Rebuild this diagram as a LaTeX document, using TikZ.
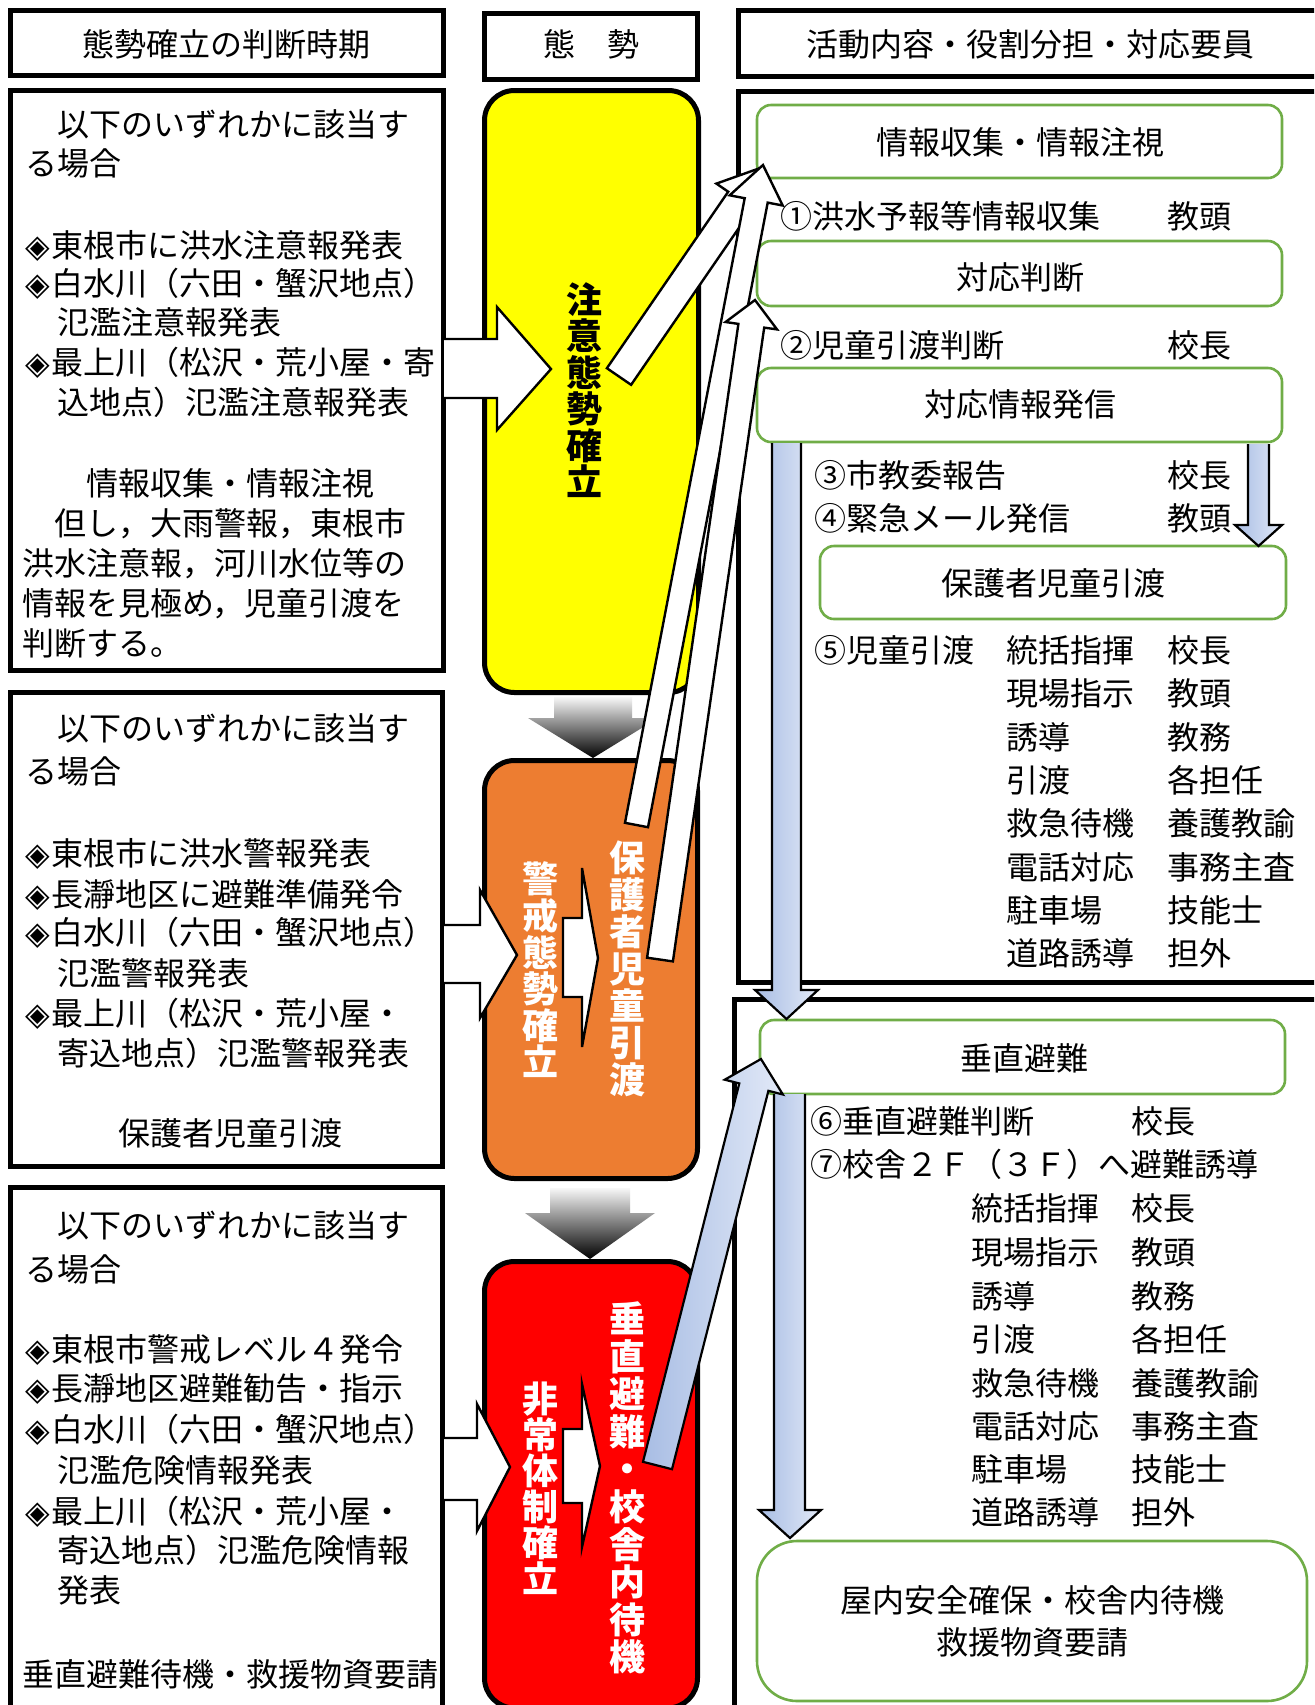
\documentclass[tikz,border=0pt]{standalone}
\usepackage{fontspec}
\setmainfont{Noto Sans CJK JP}
\newfontfamily\dejavu{DejaVu Sans}
\usetikzlibrary{calc}
\definecolor{ygold}{RGB}{255,255,0}
\definecolor{orng}{RGB}{237,125,49}
\definecolor{rred}{RGB}{255,0,0}
\definecolor{grn}{RGB}{112,173,71}
\definecolor{bluedk}{RGB}{168,189,228}
\definecolor{bluelt}{RGB}{226,233,247}
\newcommand\bul{{\dejavu\fontsize{16pt}{16pt}\selectfont ◈}\kern0.5pt}
\newcommand\vfont[1]{\bfseries\fontsize{18pt}{#1}\selectfont}
\newcommand\jtxt[4]{\node[txt] (#1) at (#2,#3) {#4};}
\newcommand\ctxtn[4]{\node[ctxt] (#1) at (#2,#3) {#4};}
\tikzset{
  frame/.style={draw=black, line width=2.5pt},
  midbox/.style={draw=black, line width=2.5pt, rounded corners=15pt},
  gbox/.style={draw=grn, line width=1.3pt, fill=white, rounded corners=7pt},
  txt/.style={anchor=base west, inner sep=0pt, font=\fontsize{16pt}{20pt}\selectfont},
  ctxt/.style={anchor=base, inner sep=0pt, font=\fontsize{16pt}{20pt}\selectfont},
  vtxt/.style={align=center, inner sep=0pt},
  warrow/.style={draw=black, fill=white, line width=1.2pt, line join=miter},
  barrow/.style={draw=black, left color=bluedk, right color=bluelt, line width=1.1pt, line join=miter},
  garrow/.style={top color=gray!6, bottom color=black}
}
\begin{document}
\begin{tikzpicture}[x=0.5pt,y=-0.5pt]
\useasboundingbox (0,0) rectangle (1314,1705);
\fill[white] (0,0) rectangle (1314,1705);
\clip (0,0) rectangle (1314,1705);

% header boxes
\draw[frame] (10.5,10.5) rectangle (443.5,75.5);
\draw[frame] (484.5,13.5) rectangle (697.5,79.5);
\draw[frame] (738.5,10.5) rectangle (1340,76);
\ctxtn{h1}{227}{56}{態勢確立の判断時期}
\ctxtn{h2}{591}{56}{態　勢}
\ctxtn{h3}{1030}{56}{活動内容・役割分担・対応要員}

% left boxes
\draw[frame] (10.5,90.5) rectangle (443.5,670.5);
\draw[frame] (10.5,692.5) rectangle (442.5,1166.5);
\draw[frame] (10.5,1187.5) rectangle (442.5,1730);

% right frames
\draw[frame] (738.5,91.5) rectangle (1340,982);
\draw[frame] (734,999.5) rectangle (1340,1730);

% middle boxes
\draw[midbox, fill=ygold] (484.5,90.5) rectangle (698.5,692.5);
\draw[midbox, fill=orng] (484.5,760.5) rectangle (697.5,1178.5);
\draw[midbox, fill=rred] (484.5,1261.5) rectangle (697.5,1708);

% gradient arrows between stages
\shade[garrow] (554,697) -- (632,697) -- (632,718) -- (658,718) -- (593,758) -- (528,718) -- (554,718) -- cycle;
\shade[garrow] (550,1188) -- (630,1188) -- (630,1213) -- (655,1213) -- (590,1259) -- (525,1213) -- (550,1213) -- cycle;

% vertical texts
\node[vtxt, font=\vfont{18.25pt}] (v1) at (584,390) {注\\意\\態\\勢\\確\\立};
\node[vtxt, text=white, font=\vfont{18.3pt}] (v2) at (540,970) {警\\戒\\態\\勢\\確\\立};
\node[vtxt, text=white, font=\vfont{18.5pt}] (v3) at (627,969) {保\\護\\者\\児\\童\\引\\渡};
\node[vtxt, text=white, font=\vfont{18pt}] (v4) at (540,1488) {非\\常\\体\\制\\確\\立};
\node[vtxt, text=white, font=\vfont{18.8pt}] (v5) at (627,1488) {垂\\直\\避\\難\\・\\校\\舎\\内\\待\\機};

% inner notched arrows
\draw[warrow] (563,918) -- (582,918) -- (582,868) -- (598,958) -- (582,1047) -- (582,997) -- (563,997) -- cycle;
\draw[warrow] (563,1429) -- (582,1429) -- (582,1384) -- (600,1466) -- (582,1547) -- (582,1503) -- (563,1503) -- cycle;

% arrows from left boxes into stages
\draw[warrow] (444,339) -- (497,339) -- (497,307) -- (551,369) -- (497,430) -- (497,398) -- (444,398);
\draw[warrow] (444,925) -- (480,925) -- (480,890) -- (517,955) -- (480,1018) -- (480,983) -- (444,983);
\draw[warrow] (444,1438) -- (477,1438) -- (477,1404) -- (510,1467) -- (477,1531) -- (477,1500) -- (444,1500);

% left box texts
\jtxt{a1}{25}{136}{　以下のいずれかに該当す}
\jtxt{a2}{25}{175}{る場合}
\jtxt{a3}{25}{257}{\bul 東根市に洪水注意報発表}
\jtxt{a4}{25}{295}{\bul 白水川（六田・蟹沢地点）}
\jtxt{a5}{25}{334}{　氾濫注意報発表}
\jtxt{a6}{25}{374}{\bul 最上川（松沢・荒小屋・寄}
\jtxt{a7}{25}{414}{　込地点）氾濫注意報発表}
\jtxt{a8}{22}{495}{　　情報収集・情報注視}
\jtxt{a9}{22}{535}{　但し，大雨警報，東根市}
\jtxt{a10}{22}{575}{洪水注意報，河川水位等の}
\jtxt{a11}{22}{615}{情報を見極め，児童引渡を}
\jtxt{a12}{22}{655}{判断する。}

\jtxt{b1}{25}{740}{　以下のいずれかに該当す}
\jtxt{b2}{25}{783}{る場合}
\jtxt{b3}{25}{865}{\bul 東根市に洪水警報発表}
\jtxt{b4}{25}{906}{\bul 長瀞地区に避難準備発令}
\jtxt{b5}{25}{944}{\bul 白水川（六田・蟹沢地点）}
\jtxt{b6}{25}{985}{　氾濫警報発表}
\jtxt{b7}{25}{1025}{\bul 最上川（松沢・荒小屋・}
\jtxt{b8}{25}{1065}{　寄込地点）氾濫警報発表}
\jtxt{b9}{22}{1145}{　　　保護者児童引渡}

\jtxt{c1}{25}{1237}{　以下のいずれかに該当す}
\jtxt{c2}{25}{1281}{る場合}
\jtxt{c3}{25}{1361}{\bul 東根市警戒レベル４発令}
\jtxt{c4}{25}{1400}{\bul 長瀞地区避難勧告・指示}
\jtxt{c5}{25}{1441}{\bul 白水川（六田・蟹沢地点）}
\jtxt{c6}{25}{1482}{　氾濫危険情報発表}
\jtxt{c7}{25}{1523}{\bul 最上川（松沢・荒小屋・}
\jtxt{c8}{25}{1562}{　寄込地点）氾濫危険情報}
\jtxt{c9}{25}{1602}{　発表}
\jtxt{c10}{22}{1686}{垂直避難待機・救援物資要請}

% green boxes
\draw[gbox] (757,105) rectangle (1282,178);
\draw[gbox] (757,241) rectangle (1282,306);
\draw[gbox] (757,368) rectangle (1282,442);
\draw[gbox] (820,546) rectangle (1286,619);
\draw[gbox] (760,1020) rectangle (1285,1094);
\draw[gbox, rounded corners=20pt] (757,1541) rectangle (1307,1701);
\ctxtn{g1}{1020}{154}{情報収集・情報注視}
\ctxtn{g2}{1020}{289}{対応判断}
\ctxtn{g3}{1020}{416}{対応情報発信}
\ctxtn{g4}{1053}{595}{保護者児童引渡}
\ctxtn{g5}{1024}{1070}{垂直避難}
\ctxtn{g6a}{1032}{1612}{屋内安全確保・校舎内待機}
\ctxtn{g6b}{1032}{1654}{救援物資要請}

% right column texts (frame 1)
\jtxt{r1}{780}{228}{①洪水予報等情報収集}
\jtxt{r1p}{1167}{228}{教頭}
\jtxt{r2}{780}{357}{②児童引渡判断}
\jtxt{r2p}{1167}{357}{校長}
\jtxt{r3}{814}{487}{③市教委報告}
\jtxt{r3p}{1167}{487}{校長}
\jtxt{r4}{814}{530}{④緊急メール発信}
\jtxt{r4p}{1167}{530}{教頭}
\jtxt{r5}{814}{662}{⑤児童引渡}
\jtxt{r5r}{1006}{662}{統括指揮}
\jtxt{r5p}{1167}{662}{校長}
\jtxt{s1r}{1006}{705}{現場指示}\jtxt{s1p}{1167}{705}{教頭}
\jtxt{s2r}{1006}{749}{誘導}\jtxt{s2p}{1167}{749}{教務}
\jtxt{s3r}{1006}{792}{引渡}\jtxt{s3p}{1167}{792}{各担任}
\jtxt{s4r}{1006}{835}{救急待機}\jtxt{s4p}{1167}{835}{養護教諭}
\jtxt{s5r}{1006}{879}{電話対応}\jtxt{s5p}{1167}{879}{事務主査}
\jtxt{s6r}{1006}{922}{駐車場}\jtxt{s6p}{1167}{922}{技能士}
\jtxt{s7r}{1006}{965}{道路誘導}\jtxt{s7p}{1167}{965}{担外}

% right column texts (frame 2)
\jtxt{r6}{810}{1133}{⑥垂直避難判断}
\jtxt{r6p}{1131}{1133}{校長}
\jtxt{r7}{810}{1176}{⑦校舎２Ｆ（３Ｆ）へ避難誘導}
\jtxt{t0r}{971}{1220}{統括指揮}\jtxt{t0p}{1131}{1220}{校長}
\jtxt{t1r}{971}{1264}{現場指示}\jtxt{t1p}{1131}{1264}{教頭}
\jtxt{t2r}{971}{1308}{誘導}\jtxt{t2p}{1131}{1308}{教務}
\jtxt{t3r}{971}{1351}{引渡}\jtxt{t3p}{1131}{1351}{各担任}
\jtxt{t4r}{971}{1395}{救急待機}\jtxt{t4p}{1131}{1395}{養護教諭}
\jtxt{t5r}{971}{1438}{電話対応}\jtxt{t5p}{1131}{1438}{事務主査}
\jtxt{t6r}{971}{1481}{駐車場}\jtxt{t6p}{1131}{1481}{技能士}
\jtxt{t7r}{971}{1524}{道路誘導}\jtxt{t7p}{1131}{1524}{担外}

% blue vertical arrows
\draw[barrow] (772,443) -- (772,990) -- (755,990) -- (786.5,1019) -- (818,990) -- (801,990) -- (801,443);
\draw[barrow] (1248,444) -- (1248,525) -- (1235,525) -- (1258.5,546) -- (1282,525) -- (1269,525) -- (1269,444);
\draw[barrow] (774,1094) -- (774,1510) -- (759,1510) -- (790,1538) -- (821,1510) -- (805,1510) -- (805,1094);

% blue slanted arrow from red stage
\draw[barrow] (643.0,1461.8) -- (739.3,1083.4) -- (724.7,1079.7) -- (761,1059) -- (782.9,1094.5) -- (768.4,1090.8) -- (672.0,1469.2) -- cycle;

% white slanted arrows
\draw[warrow] (606.9,368.2) -- (728.2,191.7) -- (716.4,183.6) -- (763,167) -- (764.2,216.4) -- (752.4,208.3) -- (631.1,384.8) -- cycle;
\draw[warrow] (625.0,822.8) -- (744.7,198.2) -- (729.7,195.3) -- (763,165) -- (782.7,205.5) -- (767.7,202.6) -- (648.0,827.2) -- cycle;
\draw[warrow] (647.1,957.7) -- (738.4,323.9) -- (725.6,322.0) -- (755,300) -- (777.0,329.4) -- (764.2,327.6) -- (672.9,961.4) -- cycle;
\end{tikzpicture}
\end{document}
